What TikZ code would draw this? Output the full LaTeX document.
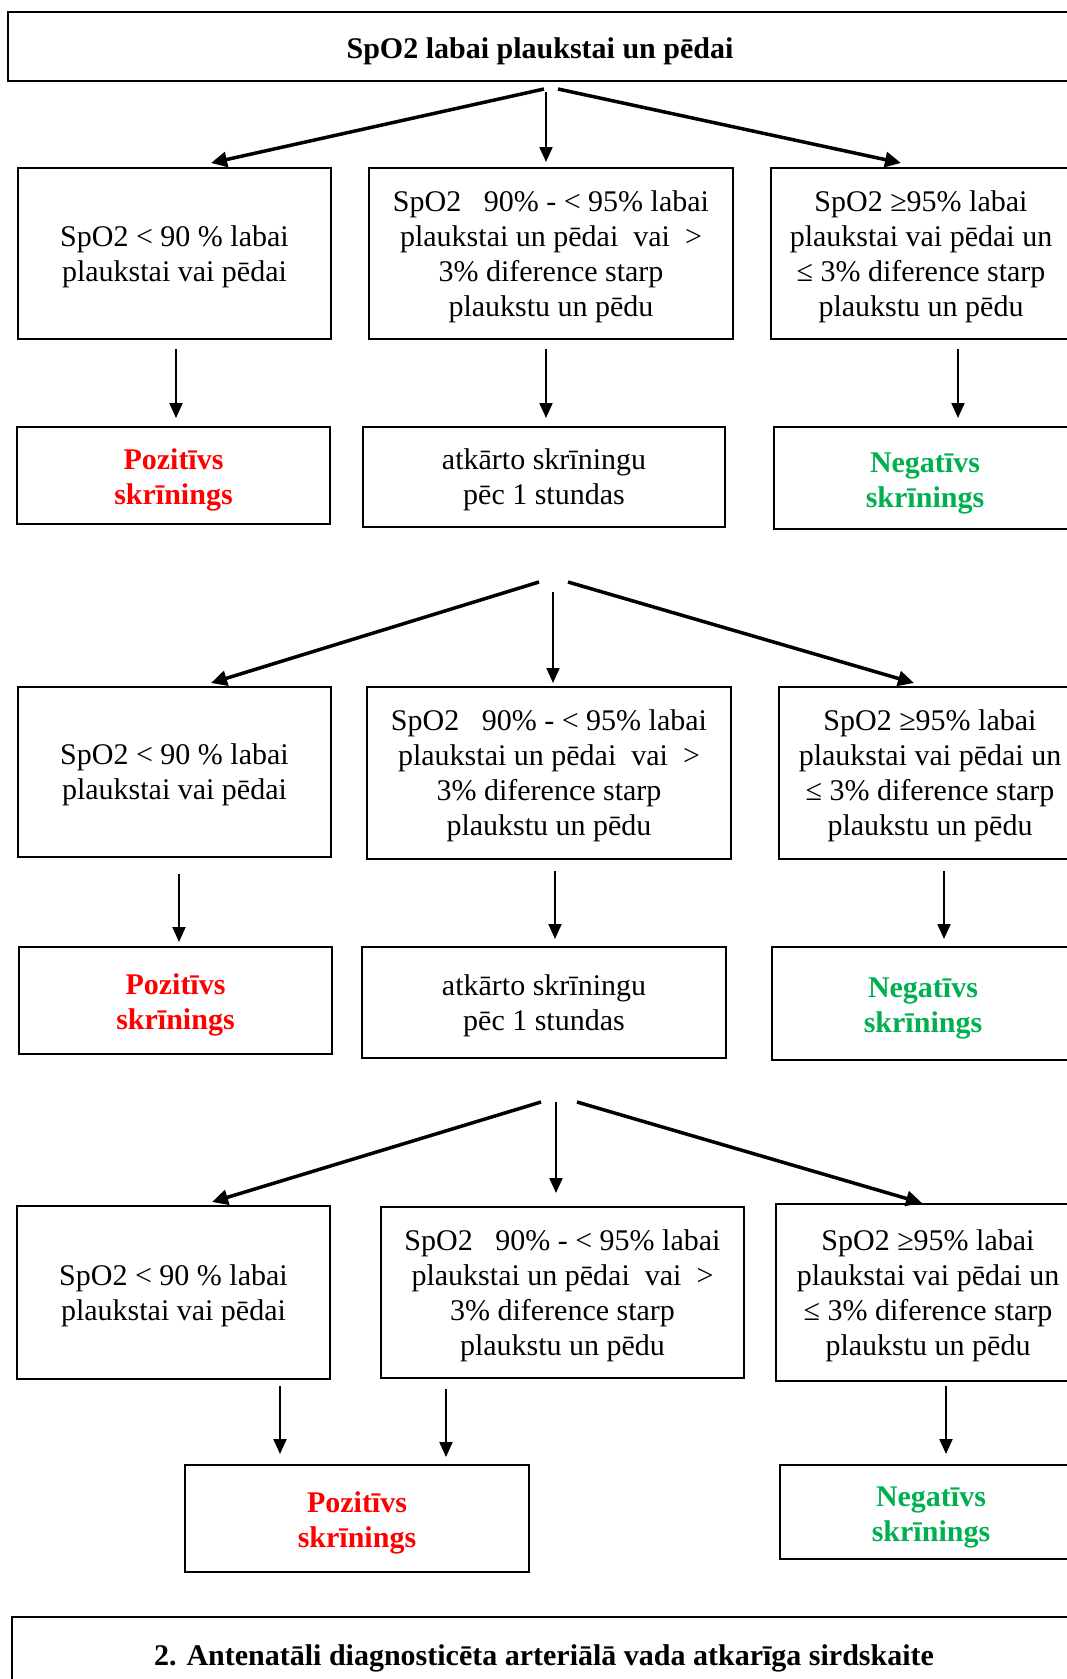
\documentclass[tikz,border=0pt]{standalone}
\usepackage{fontspec}
\setmainfont{Liberation Serif}
\usetikzlibrary{arrows.meta}
\definecolor{posred}{RGB}{255,0,0}
\definecolor{neggreen}{RGB}{0,176,80}
\def\pushA{\rule{0pt}{27pt}}
\def\pushB{\rule{0pt}{30.2pt}}
\def\pushC{\rule{0pt}{31.2pt}}
\begin{document}
\begin{tikzpicture}[x=1pt,y=-1pt,
  box/.style={draw, line width=2pt, inner sep=0pt, align=center,
    font=\fontsize{30}{35}\selectfont},
  sz/.style 2 args={minimum width=#1, minimum height=#2},
  posbox/.style={box, text=posred, font=\fontsize{30}{35}\selectfont\bfseries},
  negbox/.style={box, text=neggreen, font=\fontsize{30}{35}\selectfont\bfseries},
  darr/.style={line width=3.5pt, -{Triangle[length=16pt,width=15pt]}},
  varr/.style={line width=2pt, -{Triangle[length=15pt,width=13pt]}}]
\useasboundingbox (0,0) rectangle (1067,1679);

% top
\node[box, line width=2.5pt, sz={1064pt}{69pt}, font=\fontsize{30}{35}\selectfont\bfseries] (top) at (540,46.5) {\pushC SpO2 labai plaukstai un pēdai};

% row 1
\node[box, sz={313pt}{171pt}] (a1) at (174.5,253.5) {\pushA SpO2 < 90 \% labai\\plaukstai vai pēdai};
\node[box, sz={364pt}{171pt}] (b1) at (551,253.5) {\pushA SpO2\ \ \ 90\% - < 95\% labai\\plaukstai un pēdai\ \ vai\ \ >\\3\% diference starp\\plaukstu un pēdu};
\node[box, sz={300pt}{171pt}] (c1) at (921,253.5) {\pushA SpO2 ≥95\% labai\\plaukstai vai pēdai un\\≤ 3\% diference starp\\plaukstu un pēdu};

% row 2
\node[posbox, sz={313pt}{97pt}] (p1) at (173.5,475.5) {\pushB Pozitīvs\\skrīnings};
\node[box, sz={362pt}{100pt}] (r1) at (544,477) {\pushA atkārto skrīningu\\pēc 1 stundas};
\node[negbox, sz={302pt}{102pt}] (n1) at (925,478) {\pushB Negatīvs\\skrīnings};

% row 3
\node[box, sz={313pt}{170pt}] (a2) at (174.5,772) {\pushA SpO2 < 90 \% labai\\plaukstai vai pēdai};
\node[box, sz={364pt}{172pt}] (b2) at (549,773) {\pushA SpO2\ \ \ 90\% - < 95\% labai\\plaukstai un pēdai\ \ vai\ \ >\\3\% diference starp\\plaukstu un pēdu};
\node[box, sz={302pt}{172pt}] (c2) at (930,773) {\pushA SpO2 ≥95\% labai\\plaukstai vai pēdai un\\≤ 3\% diference starp\\plaukstu un pēdu};

% row 4
\node[posbox, sz={313pt}{107pt}] (p2) at (175.5,1000.5) {\pushB Pozitīvs\\skrīnings};
\node[box, sz={364pt}{111pt}] (r2) at (544,1002.5) {\pushA atkārto skrīningu\\pēc 1 stundas};
\node[negbox, sz={302pt}{113pt}] (n2) at (923,1003.5) {\pushB Negatīvs\\skrīnings};

% row 5
\node[box, sz={313pt}{173pt}] (a3) at (173.5,1292.5) {\pushA SpO2 < 90 \% labai\\plaukstai vai pēdai};
\node[box, sz={363pt}{171pt}] (b3) at (562.5,1292.5) {\pushA SpO2\ \ \ 90\% - < 95\% labai\\plaukstai un pēdai\ \ vai\ \ >\\3\% diference starp\\plaukstu un pēdu};
\node[box, sz={304pt}{177pt}] (c3) at (928,1292.5) {\pushA SpO2 ≥95\% labai\\plaukstai vai pēdai un\\≤ 3\% diference starp\\plaukstu un pēdu};

% row 6
\node[posbox, sz={344pt}{107pt}] (p3) at (357,1518.5) {\pushB Pozitīvs\\skrīnings};
\node[negbox, sz={302pt}{94pt}] (n3) at (931,1512) {\pushB Negatīvs\\skrīnings};

% bottom
\node[box, sz={1064pt}{83pt}, font=\fontsize{30}{35}\selectfont\bfseries] (bot) at (544,1658.5) {2. Antenatāli diagnosticēta arteriālā vada atkarīga sirdskaite};

% block 1 arrows
\coordinate (s1l) at (544,89);
\coordinate (s1m) at (546,92);
\coordinate (s1r) at (558,89);
\coordinate (e1l) at (211,163);
\coordinate (e1m) at (546,162);
\coordinate (e1r) at (901,163);
\draw[darr] (s1l) -- (e1l);
\draw[varr] (s1m) -- (e1m);
\draw[darr] (s1r) -- (e1r);

\draw[varr] ([xshift=1.5pt,yshift=-9pt]a1.south) -- ([xshift=2.5pt,yshift=8pt]p1.north);
\draw[varr] ([xshift=-5pt,yshift=-9pt]b1.south) -- ([xshift=2pt,yshift=8pt]r1.north);
\draw[varr] ([xshift=37pt,yshift=-9pt]c1.south) -- ([xshift=33pt,yshift=8pt]n1.north);

% block 2 arrows
\coordinate (s2l) at (539,582);
\coordinate (s2m) at (553,592);
\coordinate (s2r) at (568,582);
\coordinate (e2l) at (211,683);
\coordinate (e2m) at (553,683);
\coordinate (e2r) at (914,683);
\draw[darr] (s2l) -- (e2l);
\draw[varr] (s2m) -- (e2m);
\draw[darr] (s2r) -- (e2r);

\draw[varr] ([xshift=4.5pt,yshift=-16pt]a2.south) -- ([xshift=3.5pt,yshift=4pt]p2.north);
\draw[varr] ([xshift=6pt,yshift=-11pt]b2.south) -- ([xshift=11pt,yshift=7pt]r2.north);
\draw[varr] ([xshift=14pt,yshift=-11pt]c2.south) -- ([xshift=21pt,yshift=7pt]n2.north);

% block 3 arrows
\coordinate (s3l) at (541,1102);
\coordinate (s3m) at (556,1102);
\coordinate (s3r) at (577,1102);
\coordinate (e3l) at (212,1202);
\coordinate (e3m) at (556,1193);
\coordinate (e3r) at (922,1203);
\draw[darr] (s3l) -- (e3l);
\draw[varr] (s3m) -- (e3m);
\draw[darr] (s3r) -- (e3r);

\draw[varr] ([xshift=106.5pt,yshift=-6pt]a3.south) -- ([xshift=-77pt,yshift=10pt]p3.north);
\draw[varr] ([xshift=-116.5pt,yshift=-10pt]b3.south) -- ([xshift=89pt,yshift=7pt]p3.north);
\draw[varr] ([xshift=18pt,yshift=-4pt]c3.south) -- ([xshift=15pt,yshift=10pt]n3.north);
\end{tikzpicture}
\end{document}
